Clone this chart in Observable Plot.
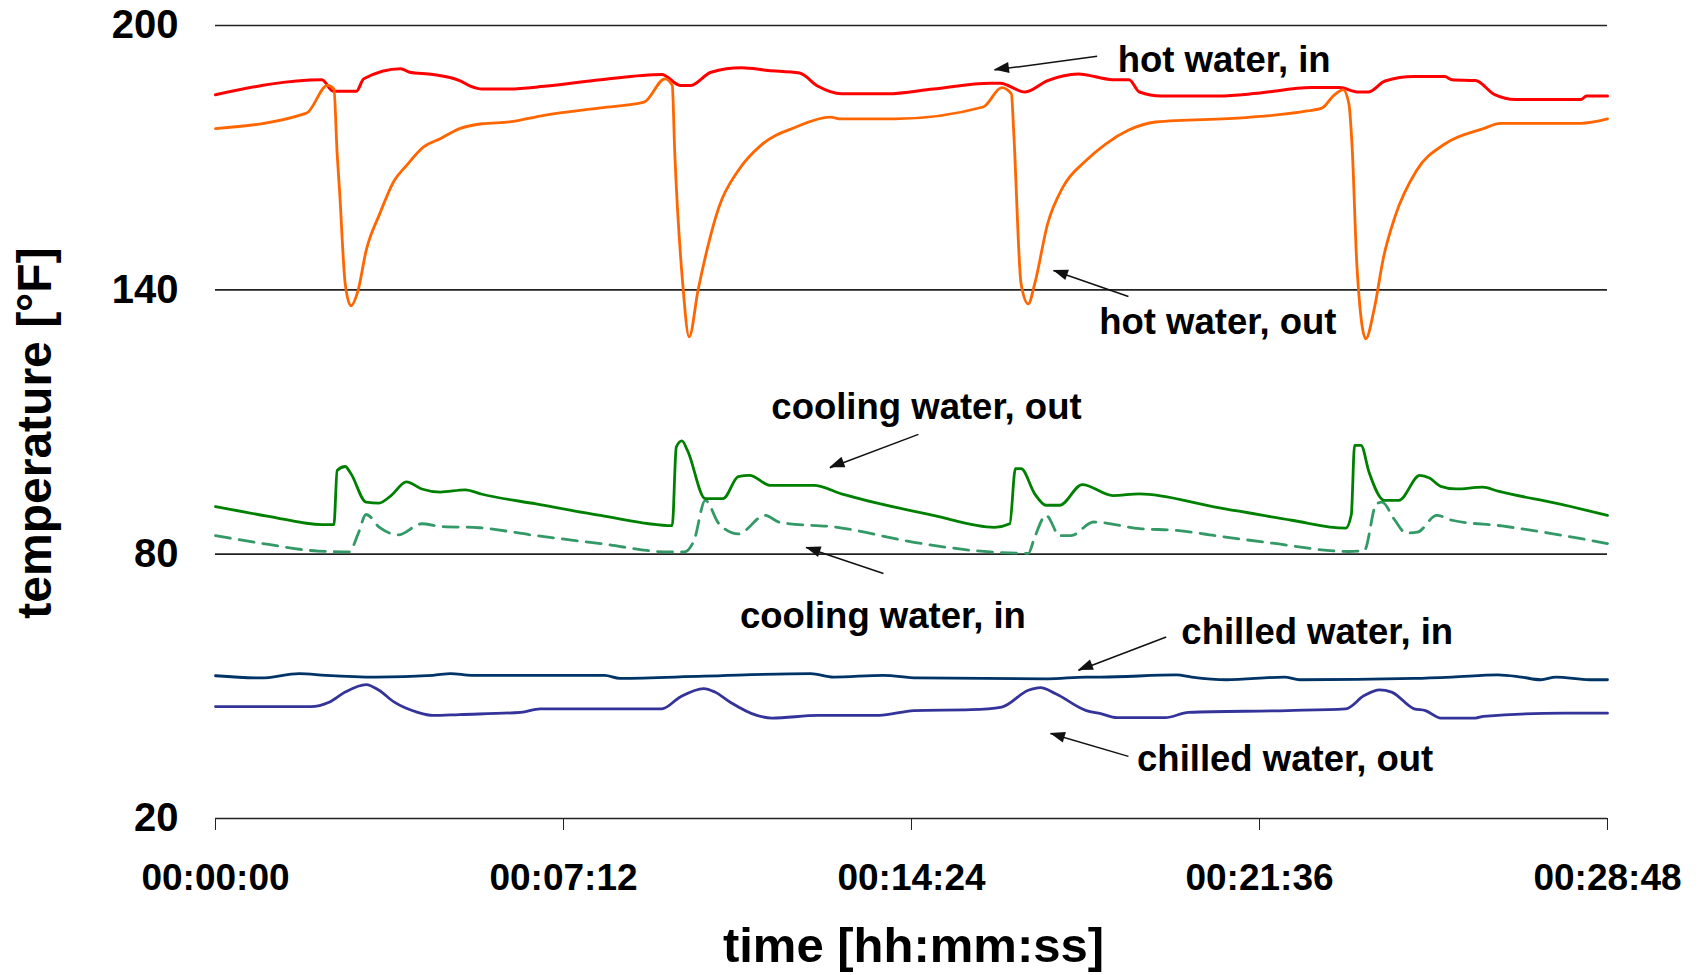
<!DOCTYPE html>
<html>
<head>
<meta charset="utf-8">
<script src="https://cdn.jsdelivr.net/npm/d3@7"></script>
<script src="https://cdn.jsdelivr.net/npm/@observablehq/plot@0.6"></script>
<style>
  html, body { margin: 0; padding: 0; background: #fff; }
  #chart svg { display: block; }
</style>
</head>
<body>
<div id="chart"></div>
<script>
// time in seconds, temperature in °F
const hotWaterIn = [[0,184.3],[132,187.7],[146,185.1],[175,185.1],[184,187.9],[230,190.2],[241,189.4],[270,188.9],[303,187.5],[317,186.2],[331,185.6],[365,185.6],[408,186.2],[478,187.7],[554,188.9],[577,186.4],[590,186.4],[615,189.4],[653,190.4],[686,189.8],[725,189.2],[748,186.2],[777,184.5],[834,184.5],[891,185.6],[962,186.9],[974,186.9],[1005,184.9],[1033,187.5],[1071,189.0],[1114,187.7],[1134,187.7],[1147,184.9],[1174,184.0],[1246,184.0],[1293,184.6],[1360,185.9],[1395,185.9],[1419,184.9],[1431,184.9],[1452,187.4],[1488,188.4],[1526,188.4],[1535,187.7],[1564,187.5],[1588,184.3],[1614,183.2],[1695,183.2],[1702,184.0],[1728,184.0]];

const hotWaterOut = [[0,176.6],[113,180.1],[139,186.4],[147,185.6],[151,170.9],[154,162.5],[161,141.4],[168,136.4],[177,139.9],[187,148.9],[204,157.3],[222,164.8],[237,168.2],[258,172.4],[279,174.3],[303,176.6],[331,177.7],[365,178.1],[408,179.6],[478,181.3],[532,182.6],[558,187.9],[567,186.4],[570,171.6],[580,141.4],[588,129.3],[599,139.9],[611,149.7],[625,158.8],[649,167.1],[677,172.8],[720,176.9],[763,179.2],[777,178.8],[843,178.8],[953,181.5],[976,185.9],[988,184.5],[991,175.4],[1000,141.4],[1009,136.8],[1017,141.4],[1033,155.0],[1052,163.3],[1081,169.4],[1105,173.1],[1133,176.2],[1167,178.1],[1279,179.1],[1355,180.6],[1374,181.3],[1388,184.1],[1400,185.4],[1407,182.2],[1411,172.4],[1417,145.2],[1428,128.9],[1438,135.3],[1450,147.4],[1464,156.5],[1491,167.1],[1526,173.1],[1574,176.6],[1595,177.8],[1695,177.8],[1728,178.8]];

const coolingWaterOut = [[0,90.8],[66,88.6],[132,86.7],[147,86.7],[151,99.0],[161,99.9],[168,98.3],[187,91.8],[203,91.6],[218,93.3],[237,96.4],[256,94.8],[279,94.1],[310,94.6],[331,93.6],[398,91.4],[478,88.8],[567,86.5],[572,104.3],[579,105.7],[586,103.5],[608,92.6],[630,92.6],[649,97.6],[663,97.9],[689,95.6],[743,95.6],[777,93.7],[891,88.8],[967,86.1],[986,86.9],[993,99.4],[1000,99.4],[1017,93.7],[1031,91.1],[1048,91.1],[1076,95.8],[1114,93.3],[1147,93.7],[1241,90.7],[1336,87.7],[1403,85.9],[1410,89.0],[1414,104.7],[1422,104.7],[1432,98.6],[1451,92.2],[1469,92.2],[1495,97.9],[1507,97.3],[1521,95.4],[1540,94.8],[1573,95.2],[1592,94.3],[1668,91.4],[1728,88.8]];

const coolingWaterIn = [[0,84.2],[66,82.2],[127,80.7],[166,80.5],[177,84.6],[187,89.0],[204,86.0],[227,84.4],[256,86.9],[279,86.3],[327,86.0],[398,84.2],[478,82.4],[563,80.5],[582,80.5],[594,83.1],[608,92.2],[625,86.9],[649,84.6],[682,88.8],[701,87.2],[772,86.1],[867,82.7],[962,80.5],[1009,80.2],[1017,83.9],[1031,88.8],[1048,84.2],[1062,84.2],[1090,87.3],[1147,85.8],[1193,85.4],[1241,84.2],[1312,82.5],[1407,80.6],[1426,80.8],[1441,91.4],[1448,91.8],[1464,87.7],[1478,84.8],[1492,85.0],[1516,88.8],[1535,87.7],[1597,86.4],[1668,84.4],[1728,82.4]];

const chilledWaterIn = [[0,52.4],[56,51.9],[104,52.9],[137,52.5],[199,52.1],[270,52.5],[292,52.9],[318,52.5],[446,52.5],[483,52.5],[502,51.8],[606,52.3],[739,52.9],[767,52.1],[829,52.5],[871,51.9],[1033,51.7],[1081,52.1],[1099,52.1],[1193,52.6],[1212,52.1],[1255,51.5],[1327,52.1],[1346,51.5],[1488,51.8],[1535,52.1],[1592,52.6],[1621,52.1],[1645,51.5],[1664,52.1],[1706,51.5],[1728,51.5]];

const chilledWaterOut = [[0,45.4],[118,45.4],[141,46.4],[161,48.7],[187,50.4],[203,49.1],[222,46.4],[251,44.1],[270,43.4],[303,43.6],[379,44.1],[403,44.9],[478,44.9],[554,44.9],[577,47.6],[606,49.5],[620,48.7],[639,46.4],[672,43.4],[691,42.8],[748,43.4],[824,43.4],[867,44.5],[938,44.7],[976,45.3],[1009,49.1],[1024,49.7],[1043,48.3],[1081,44.5],[1099,43.8],[1119,42.9],[1179,42.9],[1208,44.1],[1331,44.5],[1403,44.9],[1426,47.9],[1445,49.2],[1460,48.7],[1488,44.9],[1502,44.5],[1521,42.8],[1564,42.8],[1574,43.2],[1674,43.9],[1728,43.9]];

const yTicks = [20, 80, 140, 200];
const xTicks = [0, 432, 864, 1296, 1728];

// annotations (data units: seconds, °F)
const labels = ["hot water, in", "hot water, out", "cooling water, out", "cooling water, in", "chilled water, in", "chilled water, out"];
const labelT = [1120, 1097, 690, 651, 1199, 1144];
const labelV = [192.2, 132.6, 113.3, 66.0, 62.3, 33.5];
const arrowFromT = [1094.5, 1133.3, 872.6, 829.2, 1180.2, 1133.3];
const arrowFromV = [193.0, 138.5, 107.2, 75.6, 61.2, 34.1];
const arrowToT = [967, 1040.2, 762.7, 733.1, 1071.2, 1036.5];
const arrowToV = [189.9, 144.4, 99.6, 81.5, 53.6, 39.3];

const fmt = s => [Math.floor(s / 3600), Math.floor((s % 3600) / 60), s % 60]
  .map(v => String(v).padStart(2, "0")).join(":");

const annotations = labels.map((label, i) => ({label, t: labelT[i], v: labelV[i]}));
const arrows = labels.map((label, i) => ({t0: arrowFromT[i], v0: arrowFromV[i], t1: arrowToT[i], v1: arrowToV[i]}));

const X = d => d[0], Y = d => d[1];

function arrowHeads(index, scales) {
  const g = d3.create("svg:g").attr("fill", "#111");
  const L = 15, W = 5.5;
  for (const a of arrows) {
    const x0 = scales.x(a.t0), y0 = scales.y(a.v0);
    const x1 = scales.x(a.t1), y1 = scales.y(a.v1);
    const ang = Math.atan2(y1 - y0, x1 - x0);
    const bx = x1 - L * Math.cos(ang), by = y1 - L * Math.sin(ang);
    const px = -Math.sin(ang) * W, py = Math.cos(ang) * W;
    g.append("path").attr("d", `M${x1},${y1}L${bx + px},${by + py}L${bx - px},${by - py}Z`);
  }
  return g.node();
}

const curve = "monotone-x";

const chart = Plot.plot({
  width: 1701,
  height: 975,
  marginLeft: 215,
  marginRight: 94,
  marginTop: 25,
  marginBottom: 157,
  style: {fontFamily: "'Liberation Sans', Arial, sans-serif", fontWeight: "bold", background: "#fff", color: "#000"},
  x: {domain: [0, 1728]},
  y: {domain: [20, 200]},
  marks: [
    Plot.ruleY(yTicks, {stroke: "#222", strokeWidth: 1.6}),
    Plot.axisY({ticks: yTicks, tickSize: 0, tickPadding: 37, fontSize: 40, label: null}),
    Plot.axisX({ticks: xTicks, tickFormat: fmt, tickSize: 12, tickPadding: 33, fontSize: 37, label: null, stroke: "#222"}),
    Plot.line(chilledWaterOut, {x: X, y: Y, stroke: "#333399", strokeWidth: 2.8, curve}),
    Plot.line(chilledWaterIn, {x: X, y: Y, stroke: "#003366", strokeWidth: 2.8, curve}),
    Plot.line(coolingWaterIn, {x: X, y: Y, stroke: "#339966", strokeWidth: 2.8, strokeDasharray: "15,9", curve}),
    Plot.line(coolingWaterOut, {x: X, y: Y, stroke: "#008000", strokeWidth: 2.8, curve}),
    Plot.line(hotWaterIn, {x: X, y: Y, stroke: "#FF0000", strokeWidth: 3, curve}),
    Plot.line(hotWaterOut, {x: X, y: Y, stroke: "#FF6600", strokeWidth: 2.8, curve}),
    Plot.link(arrows, {x1: "t0", y1: "v0", x2: "t1", y2: "v1", stroke: "#111", strokeWidth: 1.5}),
    arrowHeads,
    Plot.text(annotations, {x: "t", y: "v", text: "label", textAnchor: "start", lineAnchor: "middle", fontSize: 36.5, fontWeight: "bold", fill: "#000"}),
    Plot.text(["time [hh:mm:ss]"], {frameAnchor: "bottom", textAnchor: "middle", lineAnchor: "middle", dx: 2, dy: 128, fontSize: 49, fontWeight: "bold", fill: "#000"}),
    Plot.text(["temperature [°F]"], {frameAnchor: "left", textAnchor: "middle", lineAnchor: "middle", dx: -180, dy: 11, rotate: -90, fontSize: 48, fontWeight: "bold", fill: "#000"})
  ]
});
document.getElementById("chart").appendChild(chart);
</script>
</body>
</html>
